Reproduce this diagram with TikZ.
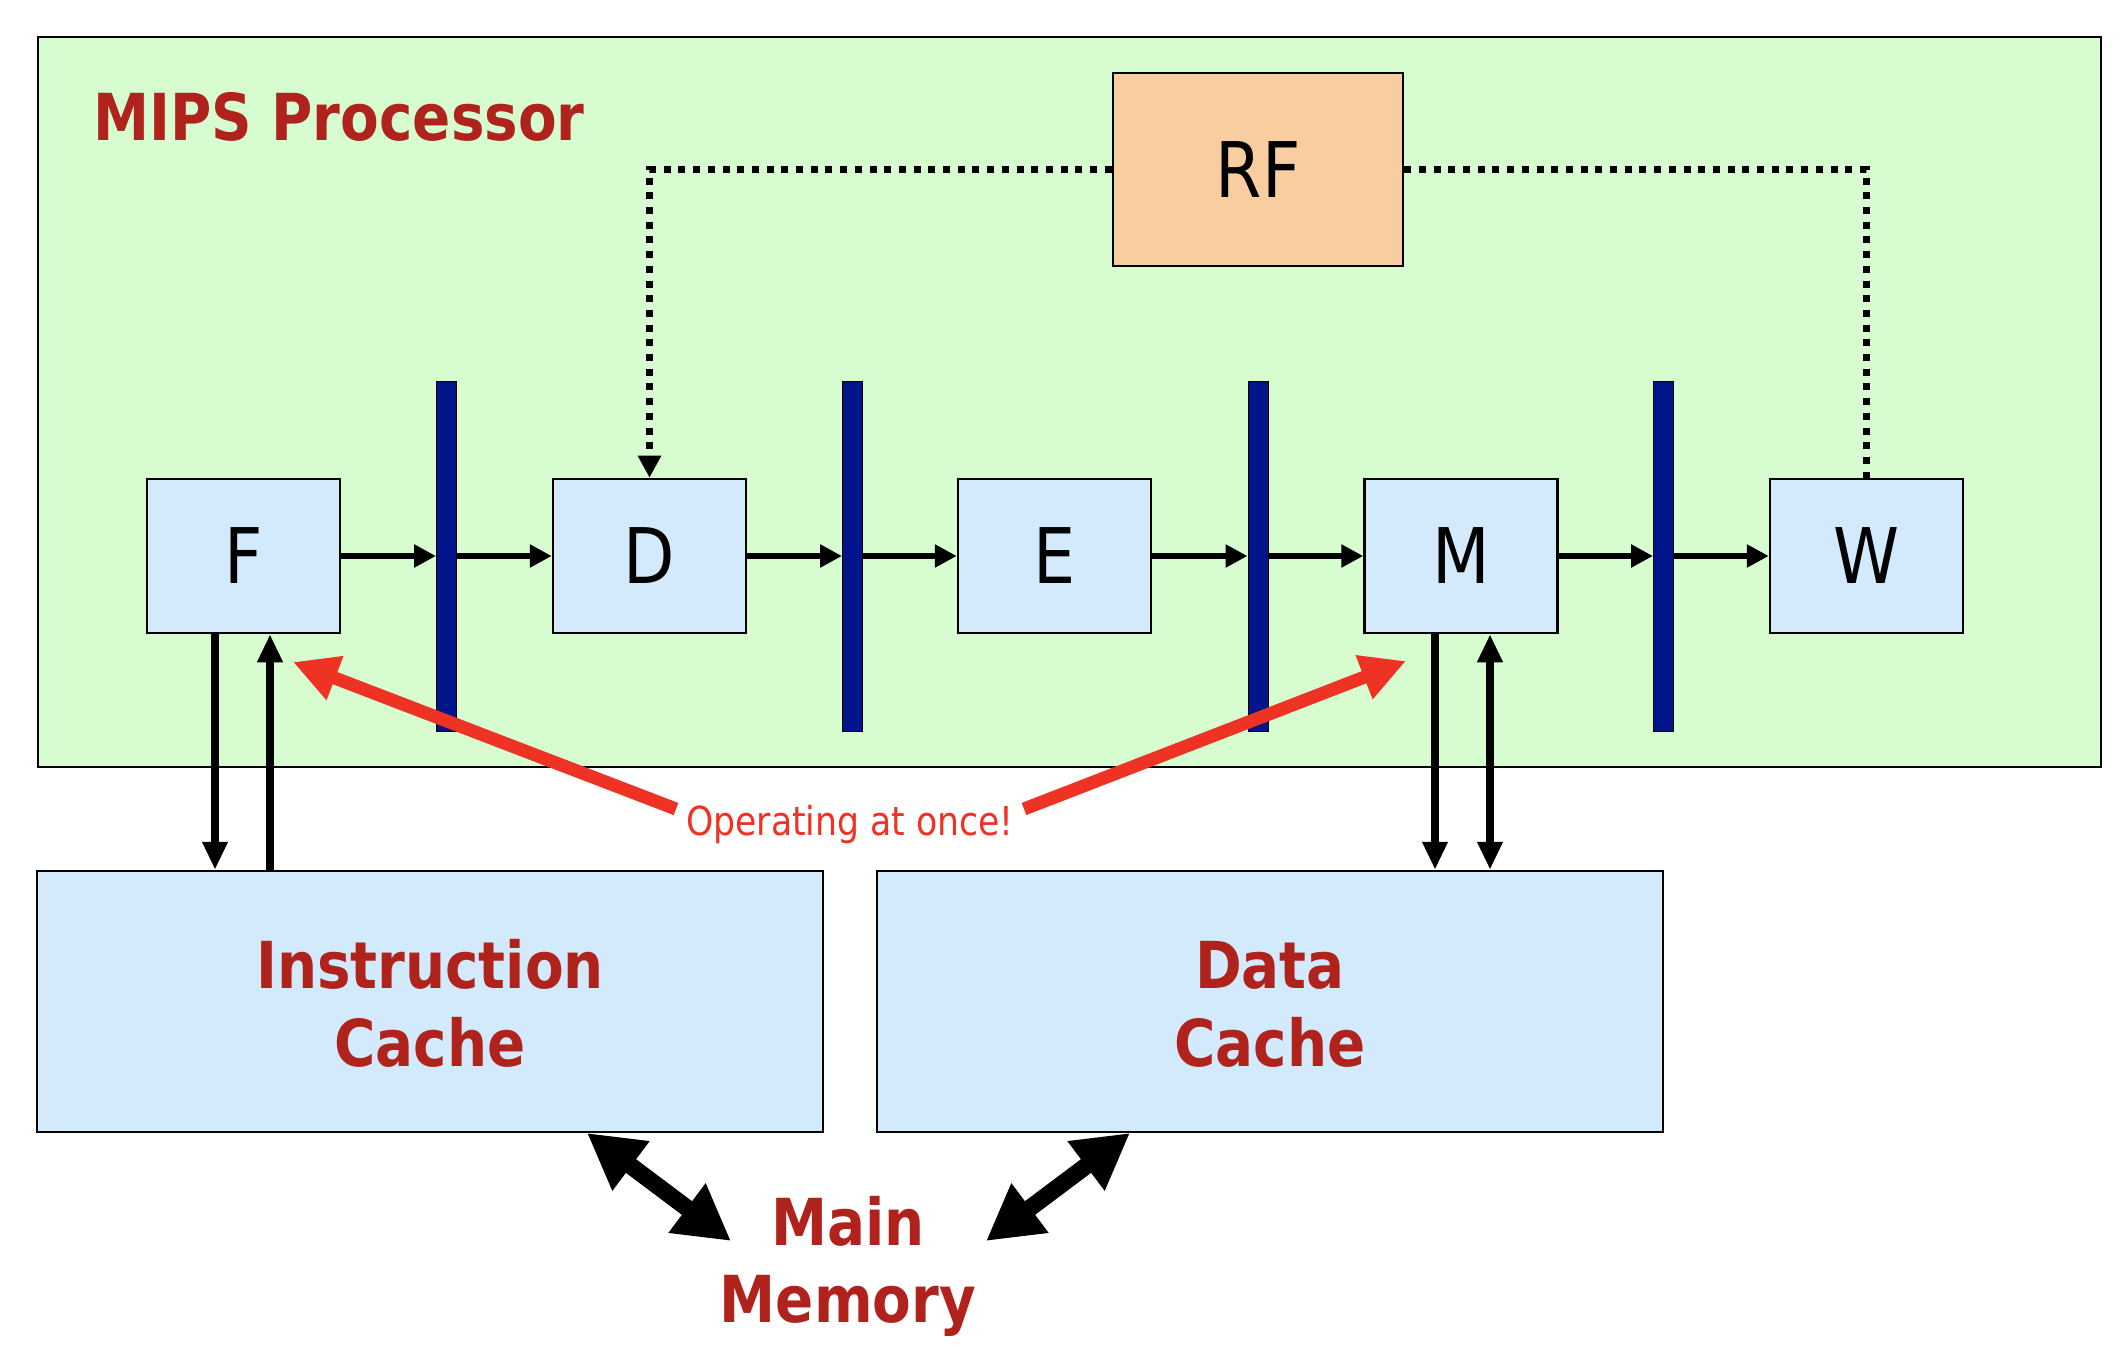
\documentclass[tikz,border=0pt]{standalone}
\usepackage{fontspec}
\usetikzlibrary{arrows.meta,calc}
\newfontfamily\tah{DejaVu Sans}[FakeStretch=0.87]
\definecolor{bggreen}{RGB}{214,252,208}
\definecolor{boxblue}{RGB}{211,234,253}
\definecolor{rforange}{RGB}{248,205,160}
\definecolor{navy}{RGB}{0,20,140}
\definecolor{darkred}{RGB}{176,34,28}
\definecolor{brightred}{RGB}{238,50,36}
\begin{document}
\begin{tikzpicture}[x=1bp,y=-1bp,
  stagebox/.style={draw=black,line width=2.5bp,fill=boxblue,minimum width=193bp,minimum height=154bp,inner sep=0pt,font=\tah\fontsize{77}{90}\selectfont},
  cachebox/.style={draw=black,line width=2.5bp,fill=boxblue,minimum width=786bp,minimum height=261bp,inner sep=0pt},
  pipereg/.style={draw=black,line width=1bp,fill=navy,minimum width=20bp,minimum height=349bp,inner sep=0pt},
  boldlabel/.style={text=darkred,font=\tah\bfseries\fontsize{65}{78}\selectfont,inner sep=0pt},
  flowarrow/.style={line width=6.5bp,-{Triangle[length=22bp,width=22bp]}},
  vertarrow/.style={line width=8bp,-{Triangle[length=28bp,width=24bp]}},
  dotline/.style={line width=7bp,dash pattern=on 7bp off 7.7bp},
  redarrow/.style={brightred,line width=13bp,-{Triangle[length=45bp,width=44bp]}},
  memarrow/.style={line width=17bp,{Triangle[length=55bp,width=58bp]}-{Triangle[length=55bp,width=58bp]}}
]
\useasboundingbox (0,0) rectangle (2128,1360);

% processor background
\node[draw=black,line width=2.5bp,fill=bggreen,minimum width=2063bp,minimum height=730bp,inner sep=0pt] (proc) at (1069.5,402) {};
\node[boldlabel,anchor=base west] (title) at (93,141) {MIPS Processor};

% register file
\node[draw=black,line width=2.5bp,fill=rforange,minimum width=290bp,minimum height=193bp,inner sep=0pt,font=\tah\fontsize{77}{90}\selectfont] (RF) at (1258,169.5) {RF};

% stages
\node[stagebox] (F) at (243.5,556) {F};
\node[stagebox] (D) at (649.5,556) {D};
\node[stagebox] (E) at (1054.5,556) {E};
\node[stagebox] (M) at (1461,556) {M};
\node[stagebox] (W) at (1866.5,556) {W};

% dotted RF connections
\draw[dotline,-{Triangle[length=22bp,width=22bp]}] (RF.west) -| (D.north);
\draw[dotline] (RF.east) -| (W.north);

% pipeline registers
\node[pipereg] (b1) at (446.5,556.5) {};
\node[pipereg] (b2) at (852.5,556.5) {};
\node[pipereg] (b3) at (1258,556.5) {};
\node[pipereg] (b4) at (1663.5,556.5) {};

% flow arrows
\draw[flowarrow] (F.east) -- (F.east -| b1.west);
\draw[flowarrow] (F.east -| b1.east) -- (D.west);
\draw[flowarrow] (D.east) -- (D.east -| b2.west);
\draw[flowarrow] (D.east -| b2.east) -- (E.west);
\draw[flowarrow] (E.east) -- (E.east -| b3.west);
\draw[flowarrow] (E.east -| b3.east) -- (M.west);
\draw[flowarrow] (M.east) -- (M.east -| b4.west);
\draw[flowarrow] (M.east -| b4.east) -- (W.west);

% caches
\node[cachebox] (ic) at (430,1001.5) {};
\node[cachebox] (dc) at (1270,1001.5) {};
\node[boldlabel,anchor=base] (ict1) at (430,988) {Instruction};
\node[boldlabel,anchor=base] (ict2) at (430,1066) {Cache};
\node[boldlabel,anchor=base] (dct1) at (1270,988) {Data};
\node[boldlabel,anchor=base] (dct2) at (1270,1066) {Cache};

% fetch / memory connections
\coordinate (xa) at (215,0);
\coordinate (xb) at (270,0);
\coordinate (xc) at (1435,0);
\coordinate (xd) at (1490,0);
\draw[vertarrow] (F.south -| xa) -- (ic.north -| xa);
\draw[vertarrow] (ic.north -| xb) -- (F.south -| xb);
\draw[vertarrow] (M.south -| xc) -- (dc.north -| xc);
\draw[vertarrow,{Triangle[length=28bp,width=24bp]}-{Triangle[length=28bp,width=24bp]}] (M.south -| xd) -- (dc.north -| xd);

% main memory
\node[boldlabel,anchor=base] (mm1) at (848,1245) {Main};
\node[boldlabel,anchor=base] (mm2) at (848,1322) {Memory};
\coordinate (icm) at (587,1133);
\coordinate (mml) at (731,1241);
\coordinate (dcm) at (1130,1133);
\coordinate (mmr) at (986,1241);
\draw[memarrow] (icm) -- (mml);
\draw[memarrow] (dcm) -- (mmr);

% operating at once
\node[text=brightred,font=\tah\fontsize{40}{48}\selectfont,inner sep=0pt,anchor=base] (op) at (850,835) {Operating at once!};
\coordinate (opL) at (676,809);
\coordinate (opR) at (1024,809);
\coordinate (tipF) at (293,662);
\coordinate (tipM) at (1406,661);
\draw[redarrow] (opL) -- (tipF);
\draw[redarrow] (opR) -- (tipM);
\end{tikzpicture}
\end{document}
